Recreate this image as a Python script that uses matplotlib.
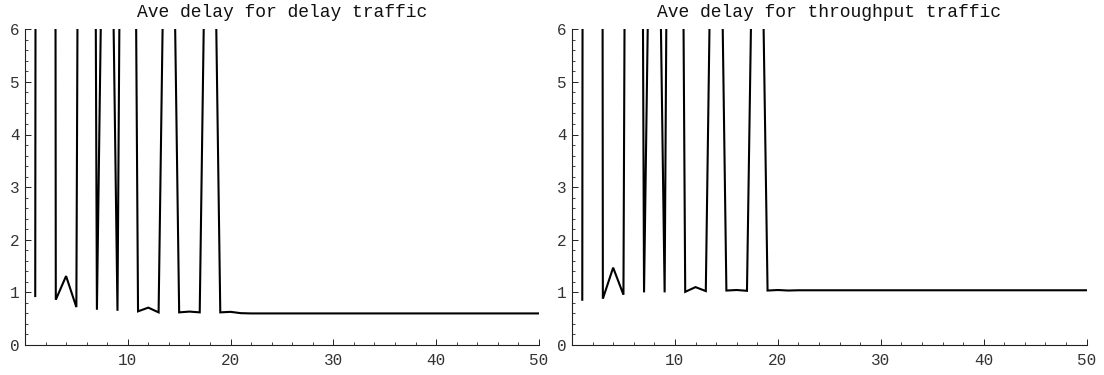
import matplotlib
matplotlib.use("Agg")
import matplotlib.pyplot as plt
from matplotlib.ticker import MultipleLocator, FixedLocator

plt.rcParams['font.family'] = ['Liberation Mono', 'DejaVu Sans Mono']

# number of stations on the x axis
stations = list(range(1, 51))

# average delay for the delay-sensitive traffic class
delay_traffic = [0.93, 200, 0.86, 1.31, 0.72, 50, 0.67, 15, 0.65, 30,
                 0.64, 0.71, 0.62, 14.5, 0.62, 0.635, 0.62, 14.5, 0.62, 0.63,
                 0.605, 0.60, 0.60, 0.60, 0.60, 0.60, 0.60, 0.60, 0.60, 0.60,
                 0.60, 0.60, 0.60, 0.60, 0.60, 0.60, 0.60, 0.60, 0.60, 0.60,
                 0.60, 0.60, 0.60, 0.60, 0.60, 0.60, 0.60, 0.60, 0.60, 0.60]

# average delay for the throughput traffic class
throughput_traffic = [0.86, 200, 0.88, 1.47, 0.955, 50, 1.0, 15, 1.0, 32,
                      1.01, 1.1, 1.025, 15, 1.035, 1.045, 1.03, 14, 1.035, 1.045,
                      1.035, 1.04, 1.04, 1.04, 1.04, 1.04, 1.04, 1.04, 1.04, 1.04,
                      1.04, 1.04, 1.04, 1.04, 1.04, 1.04, 1.04, 1.04, 1.04, 1.04,
                      1.04, 1.04, 1.04, 1.04, 1.04, 1.04, 1.04, 1.04, 1.04, 1.04]

titles = ["Ave delay for delay traffic", "Ave delay for throughput traffic"]
x_ticks = [10, 20, 30, 40, 50]
y_ticks = [0, 1, 2, 3, 4, 5, 6]

fig = plt.figure(figsize=(11.04, 3.75), dpi=100)
ax1 = fig.add_axes([0.0226, 0.08, 0.4656, 0.842])
ax2 = fig.add_axes([0.5181, 0.08, 0.4662, 0.842])

for ax, series, title in zip([ax1, ax2], [delay_traffic, throughput_traffic], titles):
    ax.plot(stations, series, color='black', lw=1.5, solid_joinstyle='miter')
    ax.set_xlim(0, 50)
    ax.set_ylim(0, 6)
    ax.set_title(title, fontsize=13, pad=9, color='#111111')
    for side in ['top', 'right']:
        ax.spines[side].set_visible(False)
    for side in ['left', 'bottom']:
        ax.spines[side].set_linewidth(0.8)
        ax.spines[side].set_color('#222222')
    ax.xaxis.set_major_locator(FixedLocator(x_ticks))
    ax.xaxis.set_minor_locator(MultipleLocator(2))
    ax.yaxis.set_major_locator(FixedLocator(y_ticks))
    ax.yaxis.set_minor_locator(MultipleLocator(0.2))
    ax.tick_params(which='major', direction='in', length=4, width=0.7,
                   labelsize=11.5, colors='#222222')
    ax.tick_params(which='minor', direction='in', length=2, width=0.6,
                   colors='#222222')
    ax.tick_params(axis='y', pad=4, labelcolor='#333333')
    ax.tick_params(axis='x', pad=6, labelcolor='#333333')

fig.savefig('out.png', dpi=100)
